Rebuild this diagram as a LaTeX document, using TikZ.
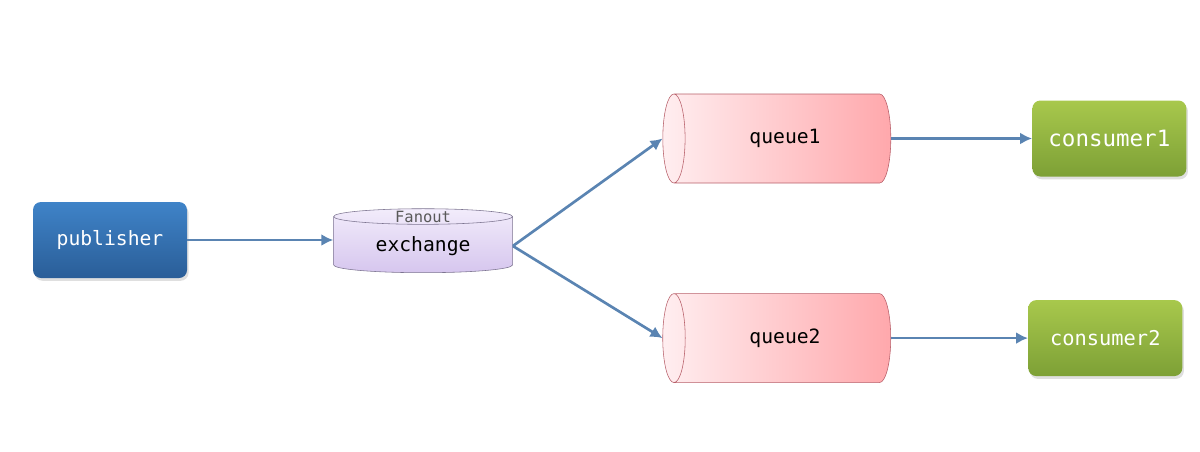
\documentclass[tikz,border=0pt]{standalone}
\usepackage{fontspec}
\setmonofont{DejaVu Sans Mono}
\usepackage{xcolor}
\usetikzlibrary{arrows.meta,positioning,shapes.geometric,shadows}

\definecolor{flowline}{HTML}{5A84B2}
\definecolor{pubtop}{HTML}{3F83C8}
\definecolor{pubbot}{HTML}{2A5E98}
\definecolor{contop}{HTML}{A8C84C}
\definecolor{conbot}{HTML}{7DA036}
\definecolor{qlight}{HTML}{FFEEF0}
\definecolor{qdark}{HTML}{FFA8AC}
\definecolor{qborder}{HTML}{B8606A}
\definecolor{exlight}{HTML}{F2ECFB}
\definecolor{exdark}{HTML}{D6C6EE}
\definecolor{exborder}{HTML}{7C7490}

\tikzset{
  box/.style={rounded corners=0.2cm,minimum width=3.85cm,minimum height=1.9cm,
    text=white,font=\ttfamily\fontsize{14}{17}\selectfont,
    drop shadow={opacity=0.25,shadow xshift=0.04cm,shadow yshift=-0.07cm}},
  pubbox/.style={box,top color=pubtop,bottom color=pubbot},
  conbox/.style={box,top color=contop,bottom color=conbot},
  queuebox/.style={cylinder,shape border rotate=180,shape aspect=0.8,draw=qborder,
    minimum width=2.225cm,minimum height=5.7cm,left color=qlight,right color=qdark,
    font=\ttfamily\fontsize{14}{17}\selectfont},
  flow/.style={->,line width=1.9pt,draw=flowline}
}

\begin{document}
\begin{tikzpicture}[node distance=3.5cm,>={Latex[length=3mm,width=3mm]}]
  \useasboundingbox (0,0) rectangle (30,-11.275);
  \node[pubbox] (publisher) at (2.75,-6.0) {publisher};
  \node[cylinder,shape border rotate=90,shape aspect=0.15,draw=exborder,
    minimum width=4.475cm,minimum height=1.6cm,top color=exlight,bottom color=exdark,
    font=\ttfamily\fontsize{14}{17}\selectfont,right=3.65cm of publisher,yshift=-0.15cm] (exchange) {exchange};
  \node[font=\ttfamily\fontsize{11}{13}\selectfont,text=black!65,inner sep=1pt,
    below=0.02cm of exchange.north] (fanout) {Fanout};
  \node[queuebox] (queue1) at (19.625,-3.4625) {queue1};
  \node[queuebox,below=2.75cm of queue1] (queue2) {queue2};
  \node[conbox,font=\ttfamily\fontsize{16}{19}\selectfont,right=3.525cm of queue1] (consumer1) {consumer1};
  \node[conbox,font=\ttfamily\fontsize{14.5}{17}\selectfont,right=3.425cm of queue2] (consumer2) {consumer2};
  % arrows
  \draw[flow] (publisher) -- (publisher -| exchange.west);
  \draw[flow] (exchange.east) -- (queue1.west);
  \draw[flow] (exchange.east) -- (queue2.west);
  \draw[flow] (queue1) -- (consumer1);
  \draw[flow] (queue2) -- (consumer2);
\end{tikzpicture}
\end{document}
